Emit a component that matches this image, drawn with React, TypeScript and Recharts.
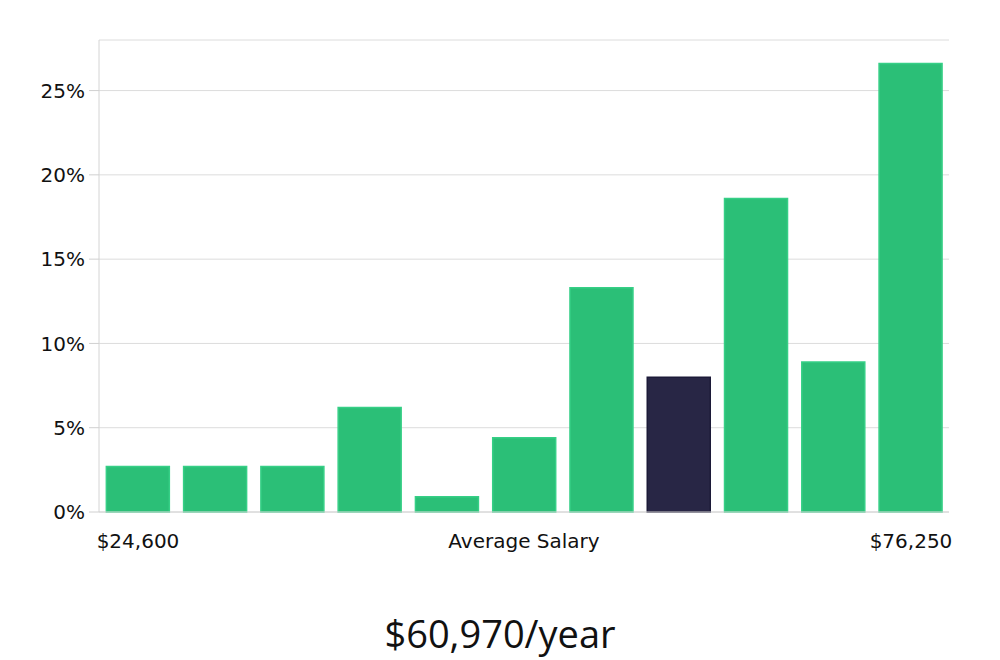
import React from "react";
import { BarChart, Bar, XAxis, YAxis, CartesianGrid, Cell } from "recharts";

// salary distribution bins (share of people, %)
const bins = ["b1", "b2", "b3", "b4", "b5", "b6", "b7", "b8", "b9", "b10", "b11"];
const shares = [2.7, 2.7, 2.7, 6.2, 0.9, 4.4, 13.3, 8.0, 18.6, 8.9, 26.6];
const binLabels = ["$24,600", "", "", "", "", "Average Salary", "", "", "", "", "$76,250"];
const highlightBin = 7;
const yTicks = [0, 5, 10, 15, 20, 25];
const averageText = "$60,970/year";

const GREEN = "#2bbf77";
const NAVY = "#282645";

const data = bins.map((b, i) => ({ bin: b, share: shares[i], label: binLabels[i] }));

interface TickProps {
  x?: number;
  y?: number;
  index?: number;
}

const SalaryTick = ({ x = 0, y = 0, index = 0 }: TickProps) => {
  const label = binLabels[index];
  if (!label) return null;
  let anchor: "start" | "middle" | "end" = "middle";
  let dx = 0;
  if (index === 0) {
    anchor = "start";
    dx = -41;
  } else if (index === binLabels.length - 1) {
    anchor = "end";
    dx = 42;
  }
  return (
    <text
      x={x + dx}
      y={y + 28}
      textAnchor={anchor}
      fill="#111"
      fontSize={20}
      fontFamily="DejaVu Sans"
    >
      {label}
    </text>
  );
};

export default function App() {
  return (
    <div style={{ position: "relative", width: 984, height: 652 }}>
      <BarChart
        width={984}
        height={560}
        data={data}
        margin={{ top: 32, right: 43, left: 0, bottom: 0 }}
        barCategoryGap="9.5%"
      >
        <CartesianGrid vertical={false} stroke="#dcdcdc" />
        <XAxis
          dataKey="bin"
          tick={<SalaryTick />}
          tickLine={false}
          axisLine={{ stroke: "#d4d4d4" }}
          interval={0}
          height={56}
        />
        <YAxis
          width={91}
          domain={[0, 28]}
          ticks={yTicks}
          tickFormatter={(v: number) => `${v}%`}
          tick={{ fill: "#111", fontSize: 20, fontFamily: "DejaVu Sans" }}
          tickLine={{ stroke: "#d0d0d0" }}
          tickSize={10}
          tickMargin={4}
          axisLine={{ stroke: "#d4d4d4" }}
        />
        <Bar dataKey="share" isAnimationActive={false} strokeWidth={1.5}>
          {data.map((d, i) => (
            <Cell
              key={d.bin}
              fill={i === highlightBin ? NAVY : GREEN}
              stroke={i === highlightBin ? "#1c1a38" : "#36cf86"}
            />
          ))}
        </Bar>
      </BarChart>
      <div
        style={{
          position: "absolute",
          top: 606,
          left: 0,
          width: 984,
          textAlign: "center",
          fontFamily: "'Open Sans'",
          fontSize: 38,
          lineHeight: "38px",
          color: "#111",
        }}
      >
        {averageText}
      </div>
    </div>
  );
}
